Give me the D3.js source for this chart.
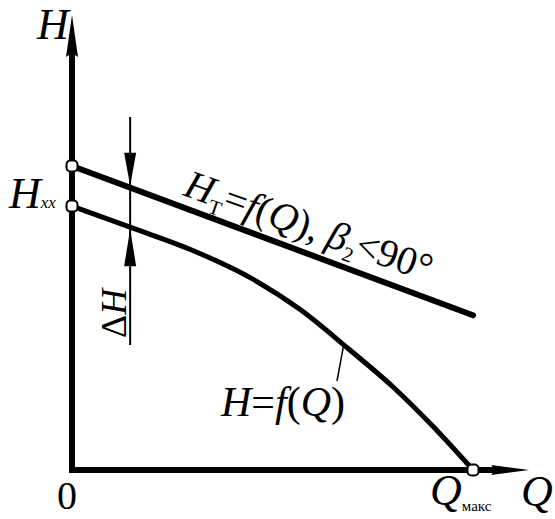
<!DOCTYPE html>
<html>
<head>
<meta charset="utf-8">
<script src="https://cdn.jsdelivr.net/npm/d3@7"></script>
<style>
  html, body { margin: 0; padding: 0; background: #fff; }
  svg { display: block; }
  text { font-family: "Liberation Serif", "Times New Roman", serif; fill: #000; }
</style>
</head>
<body>
<div id="chart"></div>
<script>
// Pump head characteristics: theoretical head H_T (straight line, β2 < 90°)
// and actual head H versus flow Q, in relative units (Q_макс = 100).
const flowTheory = [0, 100];
const headTheory = [66.8, 34.0];

const flowActual = [0, 15, 30, 45, 57, 69, 80, 90, 100];
const headActual = [58.0, 53.2, 48.3, 42.0, 35.2, 26.6, 18.3, 9.6, 0];

// flow at which the head loss ΔH is marked
const flowDelta = [14.5];

const axisLabels = ["H", "Q", "0"];

const W = 555, Hgt = 519;
const x = d3.scaleLinear().domain([0, 100]).range([72, 473]);
const y = d3.scaleLinear().domain([0, 100]).range([470, 15]);
const qAxisEnd = 114;   // axis runs a little past Q_макс
const hAxisEnd = 100;

const svg = d3.select("#chart").append("svg")
  .attr("width", W).attr("height", Hgt);

const theory = flowTheory.map((q, i) => [q, headTheory[i]]);
const actual = flowActual.map((q, i) => [q, headActual[i]]);
const line = d3.line().x(d => x(d[0])).y(d => y(d[1]));
const curve = d3.line().x(d => x(d[0])).y(d => y(d[1])).curve(d3.curveMonotoneX);

// axes
svg.append("line")
  .attr("x1", x(0)).attr("y1", y(0)).attr("x2", x(0)).attr("y2", y(hAxisEnd) + 30)
  .attr("stroke", "#000").attr("stroke-width", 6);
svg.append("line")
  .attr("x1", x(0) - 3).attr("y1", y(0)).attr("x2", x(qAxisEnd) - 30).attr("y2", y(0))
  .attr("stroke", "#000").attr("stroke-width", 6);
svg.append("path")
  .attr("d", `M${x(0)},${y(hAxisEnd)} L${x(0) + 6},${y(hAxisEnd) + 42} L${x(0)},${y(hAxisEnd) + 38} L${x(0) - 6},${y(hAxisEnd) + 42} Z`)
  .attr("fill", "#000");
svg.append("path")
  .attr("d", `M${x(qAxisEnd)},${y(0)} L${x(qAxisEnd) - 38},${y(0) - 5} L${x(qAxisEnd) - 34},${y(0)} L${x(qAxisEnd) - 38},${y(0) + 5} Z`)
  .attr("fill", "#000");

// characteristic curves
svg.append("path").attr("d", line(theory))
  .attr("fill", "none").attr("stroke", "#000").attr("stroke-width", 6).attr("stroke-linecap", "round");
svg.append("path").attr("d", curve(actual))
  .attr("fill", "none").attr("stroke", "#000").attr("stroke-width", 5).attr("stroke-linecap", "round");

// ΔH dimension: thin line with two arrows pointing at the curves
const interp = (xs, ys, v) => {
  for (let i = 1; i < xs.length; i++) {
    if (v <= xs[i]) {
      const t = (v - xs[i - 1]) / (xs[i] - xs[i - 1]);
      return ys[i - 1] + t * (ys[i] - ys[i - 1]);
    }
  }
  return ys[ys.length - 1];
};
const qd = flowDelta[0];
const xd = x(qd);
const yTop = y(interp(flowTheory, headTheory, qd)) - 2;
const yBot = y(interp(flowActual, headActual, qd)) + 2;
svg.append("line")
  .attr("x1", xd).attr("x2", xd).attr("y1", 117).attr("y2", 345)
  .attr("stroke", "#000").attr("stroke-width", 2);
svg.append("path")
  .attr("d", `M${xd},${yTop} L${xd - 6},${yTop - 33} L${xd + 6},${yTop - 33} Z`).attr("fill", "#000");
svg.append("path")
  .attr("d", `M${xd},${yBot} L${xd - 6},${yBot + 37} L${xd + 6},${yBot + 37} Z`).attr("fill", "#000");

// open markers at the curve ends
const markers = [[0, headTheory[0]], [0, headActual[0]], [flowActual[flowActual.length - 1], 0]];
svg.selectAll("rect.mk").data(markers).join("rect")
  .attr("class", "mk")
  .attr("x", d => x(d[0]) - 5.5).attr("y", d => y(d[1]) - 5.5)
  .attr("width", 11).attr("height", 11).attr("rx", 4)
  .attr("fill", "#fff").attr("stroke", "#000").attr("stroke-width", 2);

// axis labels
svg.append("text").attr("x", 37).attr("y", 39)
  .attr("font-size", 44).attr("font-style", "italic").text(axisLabels[0]);
svg.append("text").attr("x", 521).attr("y", 506)
  .attr("font-size", 44).attr("font-style", "italic").text(axisLabels[1]);
svg.append("text").attr("x", 57).attr("y", 509)
  .attr("font-size", 40).text(axisLabels[2]);

// H_xx
const hxx = svg.append("text").attr("x", 9).attr("y", 208).attr("font-size", 44);
hxx.append("tspan").attr("font-style", "italic").text("H");
hxx.append("tspan").attr("font-size", 17).attr("font-style", "italic").attr("dy", 0).text("xx");

// Q_макс
const qm = svg.append("text").attr("x", 430).attr("y", 505).attr("font-size", 44);
qm.append("tspan").attr("font-style", "italic").text("Q");
qm.append("tspan").attr("font-size", 15).attr("dy", 6).text("макс");

// ΔH
const dh = svg.append("text").attr("transform", "translate(126,338) rotate(-90)").attr("font-size", 36);
dh.append("tspan").text("Δ");
dh.append("tspan").attr("font-style", "italic").text("H");

// H_T = f(Q), β2 < 90°
const ht = svg.append("text").attr("transform", "translate(182,195) rotate(19.5)").attr("font-size", 40);
ht.append("tspan").attr("font-style", "italic").text("H");
ht.append("tspan").attr("font-size", 21).attr("dy", 8).text("Т");
ht.append("tspan").attr("dy", -8).text("=");
ht.append("tspan").attr("font-style", "italic").text("f");
ht.append("tspan").text("(");
ht.append("tspan").attr("font-style", "italic").text("Q");
ht.append("tspan").text("), ");
ht.append("tspan").attr("font-style", "italic").text("β");
ht.append("tspan").attr("font-size", 21).attr("dy", 8).text("2");
ht.append("tspan").attr("dy", -8).text("<90°");

// H = f(Q) with leader line
svg.append("line").attr("x1", 337).attr("y1", 381).attr("x2", x(69) - 5).attr("y2", y(interp(flowActual, headActual, 69 - 1.25)))
  .attr("stroke", "#000").attr("stroke-width", 1.5);
const hf = svg.append("text").attr("x", 221).attr("y", 416).attr("font-size", 42);
hf.append("tspan").attr("font-style", "italic").text("H");
hf.append("tspan").text("=");
hf.append("tspan").attr("font-style", "italic").text("f");
hf.append("tspan").text("(");
hf.append("tspan").attr("font-style", "italic").text("Q");
hf.append("tspan").text(")");
</script>
</body>
</html>
